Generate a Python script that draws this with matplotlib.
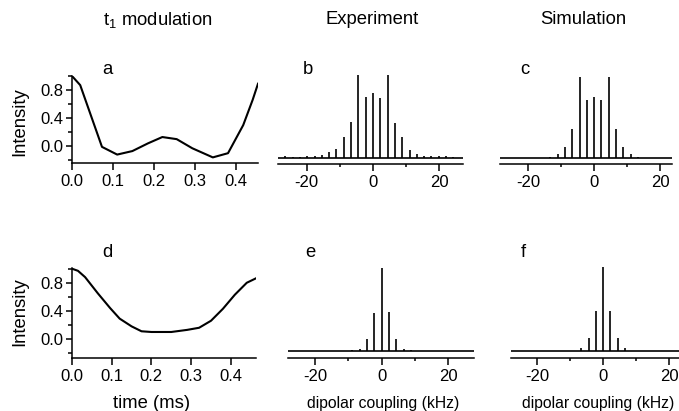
import matplotlib
matplotlib.use("Agg")
import matplotlib.pyplot as plt
from matplotlib.ticker import MultipleLocator

plt.rcParams["font.family"] = ["Liberation Sans", "DejaVu Sans"]
plt.rcParams["mathtext.fontset"] = "custom"
plt.rcParams["mathtext.rm"] = "Liberation Sans"
plt.rcParams["axes.unicode_minus"] = False

# t1 modulation curves (time in ms, intensity)
a_time = [0.0, 0.02, 0.073, 0.11, 0.147, 0.185, 0.22, 0.255, 0.293, 0.343, 0.38, 0.417, 0.44, 0.453]
a_int = [1.0, 0.87, -0.01, -0.12, -0.07, 0.04, 0.13, 0.10, -0.03, -0.16, -0.10, 0.30, 0.66, 0.89]

d_time = [0.0, 0.015, 0.033, 0.065, 0.096, 0.12, 0.15, 0.175, 0.2, 0.25, 0.29, 0.32, 0.35, 0.38, 0.41, 0.44, 0.462]
d_int = [1.0, 0.97, 0.88, 0.65, 0.44, 0.29, 0.18, 0.11, 0.10, 0.10, 0.13, 0.16, 0.26, 0.43, 0.63, 0.80, 0.86]

# stick spectra: peak positions (kHz) and relative heights
b_pos = [-26.4, -24.2, -22.0, -19.8, -17.6, -15.4, -13.2, -11.0, -8.8, -6.6, -4.4, -2.2,
         0.0, 2.2, 4.4, 6.6, 8.8, 11.0, 13.2, 15.4, 17.6, 19.8, 22.0, 24.2]
b_int = [0.03, 0.015, 0.015, 0.02, 0.02, 0.035, 0.07, 0.11, 0.25, 0.43, 1.0, 0.73,
         0.78, 0.72, 1.0, 0.42, 0.25, 0.10, 0.05, 0.03, 0.02, 0.02, 0.02, 0.015]

c_pos = [-13.2, -11.0, -8.8, -6.6, -4.4, -2.2, 0.0, 2.2, 4.4, 6.6, 8.8, 11.0, 13.2]
c_int = [0.012, 0.05, 0.14, 0.36, 1.0, 0.71, 0.75, 0.71, 1.0, 0.36, 0.14, 0.05, 0.012]

e_pos = [-8.8, -6.6, -4.4, -2.2, 0.0, 2.2, 4.4, 6.6, 8.8]
e_int = [0.01, 0.025, 0.15, 0.46, 1.0, 0.47, 0.15, 0.03, 0.01]

f_pos = [-8.8, -6.6, -4.4, -2.2, 0.0, 2.2, 4.4, 6.6, 8.8]
f_int = [0.005, 0.03, 0.16, 0.47, 1.0, 0.47, 0.16, 0.03, 0.005]

W, H = 679, 411
fig = plt.figure(figsize=(W / 100, H / 100), dpi=100)

TICK_SIZE = 12
TEXT_SIZE = 13.3


def box(left, top, right, bottom):
    # pixel box -> figure fraction
    return [left / W, 1 - bottom / H, (right - left) / W, (bottom - top) / H]


def time_panel(rect, t, y, xmax, ymin, ymax):
    ax = fig.add_axes(rect)
    ax.plot(t, y, color="black", lw=1.5)
    ax.set_xlim(0, xmax)
    ax.set_ylim(ymin, ymax)
    for s in ["top", "right"]:
        ax.spines[s].set_visible(False)
    for s in ["left", "bottom"]:
        ax.spines[s].set_linewidth(1.1)
    ax.xaxis.set_major_locator(MultipleLocator(0.1))
    ax.yaxis.set_major_locator(MultipleLocator(0.4))
    ax.yaxis.set_minor_locator(MultipleLocator(0.2))
    ax.set_xticks(ax.get_xticks())
    ax.set_xticklabels([f"{v:.1f}" for v in ax.get_xticks()])
    ax.set_xlim(0, xmax)
    ax.tick_params(axis="x", which="major", length=5, width=1.1, pad=3, labelsize=TICK_SIZE)
    ax.tick_params(axis="y", which="major", length=4.5, width=1.1, pad=1.5, labelsize=TICK_SIZE)
    ax.tick_params(axis="y", which="minor", length=3, width=1.1)
    return ax


def spec_panel(rect, pos, inten, xmin, xmax, ymin):
    ax = fig.add_axes(rect)
    ax.axhline(0, color="black", lw=1.2)
    ax.vlines(pos, 0, inten, color="black", lw=1.2)
    ax.set_xlim(xmin, xmax)
    ax.set_ylim(ymin, 1.0)
    for s in ["top", "right", "left"]:
        ax.spines[s].set_visible(False)
    ax.spines["bottom"].set_linewidth(1.1)
    ax.set_yticks([])
    ax.set_xticks([-20, 0, 20])
    ax.xaxis.set_minor_locator(MultipleLocator(10))
    ax.tick_params(axis="x", which="major", length=5, width=1.1, pad=3, labelsize=TICK_SIZE)
    ax.tick_params(axis="x", which="minor", length=2.5, width=1.1)
    return ax


ax_a = time_panel(box(72, 76, 258, 163), a_time, a_int, 0.453, -0.24, 1.0)
ax_d = time_panel(box(72, 268, 255.5, 358), d_time, d_int, 0.462, -0.27, 1.01)
ax_b = spec_panel(box(278, 75, 463, 164), b_pos, b_int, -28.6, 27.1, -0.072)
ax_c = spec_panel(box(500, 77, 672, 164), c_pos, c_int, -28.4, 23.5, -0.074)
ax_e = spec_panel(box(288, 268, 474, 358), e_pos, e_int, -28.1, 27.7, -0.084)
ax_f = spec_panel(box(510.7, 266.7, 679, 358), f_pos, f_int, -28.0, 23.0, -0.083)


def ftext(x, y, s, size, **kw):
    fig.text(x / W, 1 - y / H, s, fontsize=size, ha="center", va="center", **kw)


# column titles
ftext(158, 20, r"t$_\mathregular{1}$ modulation", TEXT_SIZE)
ftext(372, 20, "Experiment", TEXT_SIZE)
ftext(583, 20, "Simulation", TEXT_SIZE)

# panel letters
for x, y, s in [(107, 70, "a"), (308, 69, "b"), (525, 70, "c"),
                (107, 252, "d"), (310, 252, "e"), (523, 252, "f")]:
    ftext(x, y, s, TEXT_SIZE)

# axis labels
ftext(20, 122, "Intensity", TEXT_SIZE, rotation=90)
ftext(20, 312, "Intensity", TEXT_SIZE, rotation=90)
ftext(152, 403, "time (ms)", TEXT_SIZE)
ftext(383, 403, "dipolar coupling (kHz)", 11.3)
ftext(598, 403, "dipolar coupling (kHz)", 11.3)

fig.savefig("out.png", dpi=100)
